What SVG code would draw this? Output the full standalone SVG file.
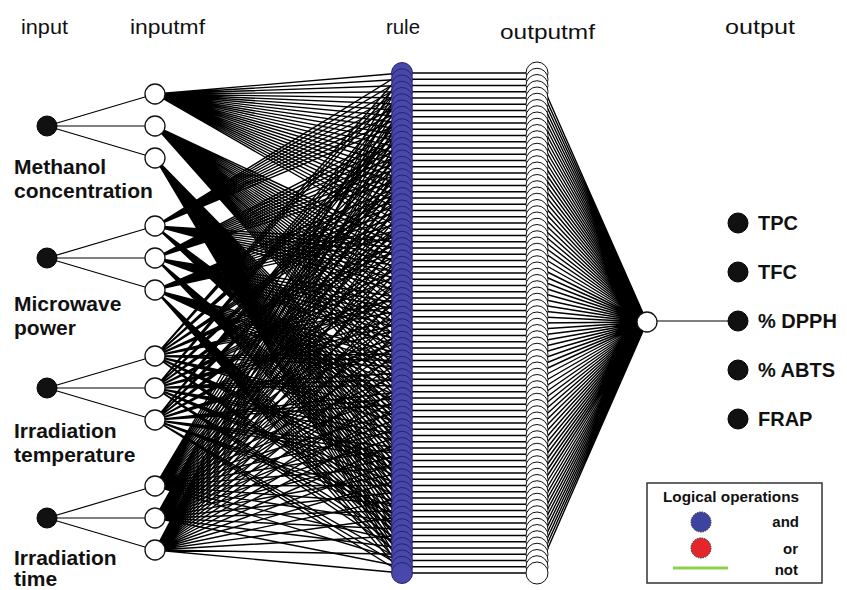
<svg xmlns="http://www.w3.org/2000/svg" width="847" height="590" viewBox="0 0 847 590">
<style>
text{font-family:"Liberation Sans",Arial,sans-serif;fill:#111}
.hd{font-size:20px}
.lb{font-size:21px;font-weight:bold}
.ol{font-size:20px;font-weight:bold}
.lg{font-size:15px;font-weight:bold}
.ln{fill:none;stroke:#000;stroke-width:1.4;stroke-linejoin:round}
.ln1{fill:none;stroke:#000;stroke-width:1.2}
.in{fill:#111;stroke:#000;stroke-width:1}
.mf{fill:#fff;stroke:#111;stroke-width:1.3}
.rn{fill:#4848aa;stroke:#25256f;stroke-width:1}
.on{fill:#fff;stroke:#111;stroke-width:1}
</style>
<rect width="847" height="590" fill="#fff"/>
<g id="headers">
<text class="hd" x="21" y="34" textLength="47" lengthAdjust="spacingAndGlyphs">input</text>
<text class="hd" x="130" y="34" textLength="75" lengthAdjust="spacingAndGlyphs">inputmf</text>
<text class="hd" x="386" y="34" textLength="34" lengthAdjust="spacingAndGlyphs">rule</text>
<text class="hd" x="500" y="39" textLength="95" lengthAdjust="spacingAndGlyphs">outputmf</text>
<text class="hd" x="725" y="34" textLength="70" lengthAdjust="spacingAndGlyphs">output</text>
</g>
<g id="connectors">
<path class="ln1" d="M47 126 155 94M47 126 155 126M47 126 155 158M47 258 155 226M47 258 155 258M47 258 155 290M47 388 155 356M47 388 155 388M47 388 155 420M47 518 155 486M47 518 155 518M47 518 155 550"/>
<path class="ln" d="M155 94 402 73 155 94 402 79.25 155 94 402 85.5 155 94 402 91.75 155 94 402 98 155 94 402 104.25 155 94 402 110.5 155 94 402 116.75 155 94 402 123 155 94 402 129.25 155 94 402 135.5 155 94 402 141.75 155 94 402 148 155 94 402 154.25 155 94 402 160.5 155 94 402 166.75 155 94 402 173 155 94 402 179.25 155 94 402 185.5 155 94 402 191.75 155 94 402 198 155 94 402 204.25 155 94 402 210.5 155 94 402 216.75 155 94 402 223 155 94 402 229.25 155 94 402 235.5"/>
<path class="ln" d="M155 126 402 241.75 155 126 402 248 155 126 402 254.25 155 126 402 260.5 155 126 402 266.75 155 126 402 273 155 126 402 279.25 155 126 402 285.5 155 126 402 291.75 155 126 402 298 155 126 402 304.25 155 126 402 310.5 155 126 402 316.75 155 126 402 323 155 126 402 329.25 155 126 402 335.5 155 126 402 341.75 155 126 402 348 155 126 402 354.25 155 126 402 360.5 155 126 402 366.75 155 126 402 373 155 126 402 379.25 155 126 402 385.5 155 126 402 391.75 155 126 402 398 155 126 402 404.25"/>
<path class="ln" d="M155 158 402 410.5 155 158 402 416.75 155 158 402 423 155 158 402 429.25 155 158 402 435.5 155 158 402 441.75 155 158 402 448 155 158 402 454.25 155 158 402 460.5 155 158 402 466.75 155 158 402 473 155 158 402 479.25 155 158 402 485.5 155 158 402 491.75 155 158 402 498 155 158 402 504.25 155 158 402 510.5 155 158 402 516.75 155 158 402 523 155 158 402 529.25 155 158 402 535.5 155 158 402 541.75 155 158 402 548 155 158 402 554.25 155 158 402 560.5 155 158 402 566.75 155 158 402 573"/>
<path class="ln" d="M155 226 402 73 155 226 402 79.25 155 226 402 85.5 155 226 402 91.75 155 226 402 98 155 226 402 104.25 155 226 402 110.5 155 226 402 116.75 155 226 402 123 155 226 402 241.75 155 226 402 248 155 226 402 254.25 155 226 402 260.5 155 226 402 266.75 155 226 402 273 155 226 402 279.25 155 226 402 285.5 155 226 402 291.75 155 226 402 410.5 155 226 402 416.75 155 226 402 423 155 226 402 429.25 155 226 402 435.5 155 226 402 441.75 155 226 402 448 155 226 402 454.25 155 226 402 460.5"/>
<path class="ln" d="M155 258 402 129.25 155 258 402 135.5 155 258 402 141.75 155 258 402 148 155 258 402 154.25 155 258 402 160.5 155 258 402 166.75 155 258 402 173 155 258 402 179.25 155 258 402 298 155 258 402 304.25 155 258 402 310.5 155 258 402 316.75 155 258 402 323 155 258 402 329.25 155 258 402 335.5 155 258 402 341.75 155 258 402 348 155 258 402 466.75 155 258 402 473 155 258 402 479.25 155 258 402 485.5 155 258 402 491.75 155 258 402 498 155 258 402 504.25 155 258 402 510.5 155 258 402 516.75"/>
<path class="ln" d="M155 290 402 185.5 155 290 402 191.75 155 290 402 198 155 290 402 204.25 155 290 402 210.5 155 290 402 216.75 155 290 402 223 155 290 402 229.25 155 290 402 235.5 155 290 402 354.25 155 290 402 360.5 155 290 402 366.75 155 290 402 373 155 290 402 379.25 155 290 402 385.5 155 290 402 391.75 155 290 402 398 155 290 402 404.25 155 290 402 523 155 290 402 529.25 155 290 402 535.5 155 290 402 541.75 155 290 402 548 155 290 402 554.25 155 290 402 560.5 155 290 402 566.75 155 290 402 573"/>
<path class="ln" d="M155 356 402 73 155 356 402 79.25 155 356 402 85.5 155 356 402 129.25 155 356 402 135.5 155 356 402 141.75 155 356 402 185.5 155 356 402 191.75 155 356 402 198 155 356 402 241.75 155 356 402 248 155 356 402 254.25 155 356 402 298 155 356 402 304.25 155 356 402 310.5 155 356 402 354.25 155 356 402 360.5 155 356 402 366.75 155 356 402 410.5 155 356 402 416.75 155 356 402 423 155 356 402 466.75 155 356 402 473 155 356 402 479.25 155 356 402 523 155 356 402 529.25 155 356 402 535.5"/>
<path class="ln" d="M155 388 402 91.75 155 388 402 98 155 388 402 104.25 155 388 402 148 155 388 402 154.25 155 388 402 160.5 155 388 402 204.25 155 388 402 210.5 155 388 402 216.75 155 388 402 260.5 155 388 402 266.75 155 388 402 273 155 388 402 316.75 155 388 402 323 155 388 402 329.25 155 388 402 373 155 388 402 379.25 155 388 402 385.5 155 388 402 429.25 155 388 402 435.5 155 388 402 441.75 155 388 402 485.5 155 388 402 491.75 155 388 402 498 155 388 402 541.75 155 388 402 548 155 388 402 554.25"/>
<path class="ln" d="M155 420 402 110.5 155 420 402 116.75 155 420 402 123 155 420 402 166.75 155 420 402 173 155 420 402 179.25 155 420 402 223 155 420 402 229.25 155 420 402 235.5 155 420 402 279.25 155 420 402 285.5 155 420 402 291.75 155 420 402 335.5 155 420 402 341.75 155 420 402 348 155 420 402 391.75 155 420 402 398 155 420 402 404.25 155 420 402 448 155 420 402 454.25 155 420 402 460.5 155 420 402 504.25 155 420 402 510.5 155 420 402 516.75 155 420 402 560.5 155 420 402 566.75 155 420 402 573"/>
<path class="ln" d="M155 486 402 73 155 486 402 91.75 155 486 402 110.5 155 486 402 129.25 155 486 402 148 155 486 402 166.75 155 486 402 185.5 155 486 402 204.25 155 486 402 223 155 486 402 241.75 155 486 402 260.5 155 486 402 279.25 155 486 402 298 155 486 402 316.75 155 486 402 335.5 155 486 402 354.25 155 486 402 373 155 486 402 391.75 155 486 402 410.5 155 486 402 429.25 155 486 402 448 155 486 402 466.75 155 486 402 485.5 155 486 402 504.25 155 486 402 523 155 486 402 541.75 155 486 402 560.5"/>
<path class="ln" d="M155 518 402 79.25 155 518 402 98 155 518 402 116.75 155 518 402 135.5 155 518 402 154.25 155 518 402 173 155 518 402 191.75 155 518 402 210.5 155 518 402 229.25 155 518 402 248 155 518 402 266.75 155 518 402 285.5 155 518 402 304.25 155 518 402 323 155 518 402 341.75 155 518 402 360.5 155 518 402 379.25 155 518 402 398 155 518 402 416.75 155 518 402 435.5 155 518 402 454.25 155 518 402 473 155 518 402 491.75 155 518 402 510.5 155 518 402 529.25 155 518 402 548 155 518 402 566.75"/>
<path class="ln" d="M155 550 402 85.5 155 550 402 104.25 155 550 402 123 155 550 402 141.75 155 550 402 160.5 155 550 402 179.25 155 550 402 198 155 550 402 216.75 155 550 402 235.5 155 550 402 254.25 155 550 402 273 155 550 402 291.75 155 550 402 310.5 155 550 402 329.25 155 550 402 348 155 550 402 366.75 155 550 402 385.5 155 550 402 404.25 155 550 402 423 155 550 402 441.75 155 550 402 460.5 155 550 402 479.25 155 550 402 498 155 550 402 516.75 155 550 402 535.5 155 550 402 554.25 155 550 402 573"/>
<path class="ln" d="M402 73H537M402 79.25H537M402 85.5H537M402 91.75H537M402 98H537M402 104.25H537M402 110.5H537M402 116.75H537M402 123H537M402 129.25H537M402 135.5H537M402 141.75H537M402 148H537M402 154.25H537M402 160.5H537M402 166.75H537M402 173H537M402 179.25H537M402 185.5H537M402 191.75H537M402 198H537M402 204.25H537M402 210.5H537M402 216.75H537M402 223H537M402 229.25H537M402 235.5H537M402 241.75H537M402 248H537M402 254.25H537M402 260.5H537M402 266.75H537M402 273H537M402 279.25H537M402 285.5H537M402 291.75H537M402 298H537M402 304.25H537M402 310.5H537M402 316.75H537M402 323H537M402 329.25H537M402 335.5H537M402 341.75H537M402 348H537M402 354.25H537M402 360.5H537M402 366.75H537M402 373H537M402 379.25H537M402 385.5H537M402 391.75H537M402 398H537M402 404.25H537M402 410.5H537M402 416.75H537M402 423H537M402 429.25H537M402 435.5H537M402 441.75H537M402 448H537M402 454.25H537M402 460.5H537M402 466.75H537M402 473H537M402 479.25H537M402 485.5H537M402 491.75H537M402 498H537M402 504.25H537M402 510.5H537M402 516.75H537M402 523H537M402 529.25H537M402 535.5H537M402 541.75H537M402 548H537M402 554.25H537M402 560.5H537M402 566.75H537M402 573H537"/>
<path class="ln" d="M647 322 537 73 647 322 537 79.25 647 322 537 85.5 647 322 537 91.75 647 322 537 98 647 322 537 104.25 647 322 537 110.5 647 322 537 116.75 647 322 537 123 647 322 537 129.25 647 322 537 135.5 647 322 537 141.75 647 322 537 148 647 322 537 154.25 647 322 537 160.5 647 322 537 166.75 647 322 537 173 647 322 537 179.25 647 322 537 185.5 647 322 537 191.75 647 322 537 198 647 322 537 204.25 647 322 537 210.5 647 322 537 216.75 647 322 537 223 647 322 537 229.25 647 322 537 235.5 647 322 537 241.75 647 322 537 248 647 322 537 254.25 647 322 537 260.5 647 322 537 266.75 647 322 537 273 647 322 537 279.25 647 322 537 285.5 647 322 537 291.75 647 322 537 298 647 322 537 304.25 647 322 537 310.5 647 322 537 316.75 647 322 537 323 647 322 537 329.25 647 322 537 335.5 647 322 537 341.75 647 322 537 348 647 322 537 354.25 647 322 537 360.5 647 322 537 366.75 647 322 537 373 647 322 537 379.25 647 322 537 385.5 647 322 537 391.75 647 322 537 398 647 322 537 404.25 647 322 537 410.5 647 322 537 416.75 647 322 537 423 647 322 537 429.25 647 322 537 435.5 647 322 537 441.75 647 322 537 448 647 322 537 454.25 647 322 537 460.5 647 322 537 466.75 647 322 537 473 647 322 537 479.25 647 322 537 485.5 647 322 537 491.75 647 322 537 498 647 322 537 504.25 647 322 537 510.5 647 322 537 516.75 647 322 537 523 647 322 537 529.25 647 322 537 535.5 647 322 537 541.75 647 322 537 548 647 322 537 554.25 647 322 537 560.5 647 322 537 566.75 647 322 537 573"/>
<path class="ln1" d="M647 321H738"/>
</g>
<g id="in1"><circle class="in" cx="47" cy="126" r="10"/><text class="lb" x="14" y="174">Methanol</text><text class="lb" x="14" y="198">concentration</text></g>
<g id="in2"><circle class="in" cx="47" cy="258" r="10"/><text class="lb" x="14" y="311">Microwave</text><text class="lb" x="14" y="335">power</text></g>
<g id="in3"><circle class="in" cx="47" cy="388" r="10"/><text class="lb" x="14" y="438">Irradiation</text><text class="lb" x="14" y="462">temperature</text></g>
<g id="in4"><circle class="in" cx="47" cy="518" r="10"/><text class="lb" x="14" y="565">Irradiation</text><text class="lb" x="14" y="586">time</text></g>
<g id="mf1"><circle class="mf" cx="155" cy="94" r="10"/></g>
<g id="mf2"><circle class="mf" cx="155" cy="126" r="10"/></g>
<g id="mf3"><circle class="mf" cx="155" cy="158" r="10"/></g>
<g id="mf4"><circle class="mf" cx="155" cy="226" r="10"/></g>
<g id="mf5"><circle class="mf" cx="155" cy="258" r="10"/></g>
<g id="mf6"><circle class="mf" cx="155" cy="290" r="10"/></g>
<g id="mf7"><circle class="mf" cx="155" cy="356" r="10"/></g>
<g id="mf8"><circle class="mf" cx="155" cy="388" r="10"/></g>
<g id="mf9"><circle class="mf" cx="155" cy="420" r="10"/></g>
<g id="mf10"><circle class="mf" cx="155" cy="486" r="10"/></g>
<g id="mf11"><circle class="mf" cx="155" cy="518" r="10"/></g>
<g id="mf12"><circle class="mf" cx="155" cy="550" r="10"/></g>
<g id="rules">
<g id="r1"><circle class="rn" cx="402" cy="73" r="10.5"/></g>
<g id="r2"><circle class="rn" cx="402" cy="79.25" r="10.5"/></g>
<g id="r3"><circle class="rn" cx="402" cy="85.5" r="10.5"/></g>
<g id="r4"><circle class="rn" cx="402" cy="91.75" r="10.5"/></g>
<g id="r5"><circle class="rn" cx="402" cy="98" r="10.5"/></g>
<g id="r6"><circle class="rn" cx="402" cy="104.25" r="10.5"/></g>
<g id="r7"><circle class="rn" cx="402" cy="110.5" r="10.5"/></g>
<g id="r8"><circle class="rn" cx="402" cy="116.75" r="10.5"/></g>
<g id="r9"><circle class="rn" cx="402" cy="123" r="10.5"/></g>
<g id="r10"><circle class="rn" cx="402" cy="129.25" r="10.5"/></g>
<g id="r11"><circle class="rn" cx="402" cy="135.5" r="10.5"/></g>
<g id="r12"><circle class="rn" cx="402" cy="141.75" r="10.5"/></g>
<g id="r13"><circle class="rn" cx="402" cy="148" r="10.5"/></g>
<g id="r14"><circle class="rn" cx="402" cy="154.25" r="10.5"/></g>
<g id="r15"><circle class="rn" cx="402" cy="160.5" r="10.5"/></g>
<g id="r16"><circle class="rn" cx="402" cy="166.75" r="10.5"/></g>
<g id="r17"><circle class="rn" cx="402" cy="173" r="10.5"/></g>
<g id="r18"><circle class="rn" cx="402" cy="179.25" r="10.5"/></g>
<g id="r19"><circle class="rn" cx="402" cy="185.5" r="10.5"/></g>
<g id="r20"><circle class="rn" cx="402" cy="191.75" r="10.5"/></g>
<g id="r21"><circle class="rn" cx="402" cy="198" r="10.5"/></g>
<g id="r22"><circle class="rn" cx="402" cy="204.25" r="10.5"/></g>
<g id="r23"><circle class="rn" cx="402" cy="210.5" r="10.5"/></g>
<g id="r24"><circle class="rn" cx="402" cy="216.75" r="10.5"/></g>
<g id="r25"><circle class="rn" cx="402" cy="223" r="10.5"/></g>
<g id="r26"><circle class="rn" cx="402" cy="229.25" r="10.5"/></g>
<g id="r27"><circle class="rn" cx="402" cy="235.5" r="10.5"/></g>
<g id="r28"><circle class="rn" cx="402" cy="241.75" r="10.5"/></g>
<g id="r29"><circle class="rn" cx="402" cy="248" r="10.5"/></g>
<g id="r30"><circle class="rn" cx="402" cy="254.25" r="10.5"/></g>
<g id="r31"><circle class="rn" cx="402" cy="260.5" r="10.5"/></g>
<g id="r32"><circle class="rn" cx="402" cy="266.75" r="10.5"/></g>
<g id="r33"><circle class="rn" cx="402" cy="273" r="10.5"/></g>
<g id="r34"><circle class="rn" cx="402" cy="279.25" r="10.5"/></g>
<g id="r35"><circle class="rn" cx="402" cy="285.5" r="10.5"/></g>
<g id="r36"><circle class="rn" cx="402" cy="291.75" r="10.5"/></g>
<g id="r37"><circle class="rn" cx="402" cy="298" r="10.5"/></g>
<g id="r38"><circle class="rn" cx="402" cy="304.25" r="10.5"/></g>
<g id="r39"><circle class="rn" cx="402" cy="310.5" r="10.5"/></g>
<g id="r40"><circle class="rn" cx="402" cy="316.75" r="10.5"/></g>
<g id="r41"><circle class="rn" cx="402" cy="323" r="10.5"/></g>
<g id="r42"><circle class="rn" cx="402" cy="329.25" r="10.5"/></g>
<g id="r43"><circle class="rn" cx="402" cy="335.5" r="10.5"/></g>
<g id="r44"><circle class="rn" cx="402" cy="341.75" r="10.5"/></g>
<g id="r45"><circle class="rn" cx="402" cy="348" r="10.5"/></g>
<g id="r46"><circle class="rn" cx="402" cy="354.25" r="10.5"/></g>
<g id="r47"><circle class="rn" cx="402" cy="360.5" r="10.5"/></g>
<g id="r48"><circle class="rn" cx="402" cy="366.75" r="10.5"/></g>
<g id="r49"><circle class="rn" cx="402" cy="373" r="10.5"/></g>
<g id="r50"><circle class="rn" cx="402" cy="379.25" r="10.5"/></g>
<g id="r51"><circle class="rn" cx="402" cy="385.5" r="10.5"/></g>
<g id="r52"><circle class="rn" cx="402" cy="391.75" r="10.5"/></g>
<g id="r53"><circle class="rn" cx="402" cy="398" r="10.5"/></g>
<g id="r54"><circle class="rn" cx="402" cy="404.25" r="10.5"/></g>
<g id="r55"><circle class="rn" cx="402" cy="410.5" r="10.5"/></g>
<g id="r56"><circle class="rn" cx="402" cy="416.75" r="10.5"/></g>
<g id="r57"><circle class="rn" cx="402" cy="423" r="10.5"/></g>
<g id="r58"><circle class="rn" cx="402" cy="429.25" r="10.5"/></g>
<g id="r59"><circle class="rn" cx="402" cy="435.5" r="10.5"/></g>
<g id="r60"><circle class="rn" cx="402" cy="441.75" r="10.5"/></g>
<g id="r61"><circle class="rn" cx="402" cy="448" r="10.5"/></g>
<g id="r62"><circle class="rn" cx="402" cy="454.25" r="10.5"/></g>
<g id="r63"><circle class="rn" cx="402" cy="460.5" r="10.5"/></g>
<g id="r64"><circle class="rn" cx="402" cy="466.75" r="10.5"/></g>
<g id="r65"><circle class="rn" cx="402" cy="473" r="10.5"/></g>
<g id="r66"><circle class="rn" cx="402" cy="479.25" r="10.5"/></g>
<g id="r67"><circle class="rn" cx="402" cy="485.5" r="10.5"/></g>
<g id="r68"><circle class="rn" cx="402" cy="491.75" r="10.5"/></g>
<g id="r69"><circle class="rn" cx="402" cy="498" r="10.5"/></g>
<g id="r70"><circle class="rn" cx="402" cy="504.25" r="10.5"/></g>
<g id="r71"><circle class="rn" cx="402" cy="510.5" r="10.5"/></g>
<g id="r72"><circle class="rn" cx="402" cy="516.75" r="10.5"/></g>
<g id="r73"><circle class="rn" cx="402" cy="523" r="10.5"/></g>
<g id="r74"><circle class="rn" cx="402" cy="529.25" r="10.5"/></g>
<g id="r75"><circle class="rn" cx="402" cy="535.5" r="10.5"/></g>
<g id="r76"><circle class="rn" cx="402" cy="541.75" r="10.5"/></g>
<g id="r77"><circle class="rn" cx="402" cy="548" r="10.5"/></g>
<g id="r78"><circle class="rn" cx="402" cy="554.25" r="10.5"/></g>
<g id="r79"><circle class="rn" cx="402" cy="560.5" r="10.5"/></g>
<g id="r80"><circle class="rn" cx="402" cy="566.75" r="10.5"/></g>
<g id="r81"><circle class="rn" cx="402" cy="573" r="10.5"/></g>
</g>
<g id="outputmfs">
<g id="o1"><circle class="on" cx="537" cy="73" r="11"/></g>
<g id="o2"><circle class="on" cx="537" cy="79.25" r="11"/></g>
<g id="o3"><circle class="on" cx="537" cy="85.5" r="11"/></g>
<g id="o4"><circle class="on" cx="537" cy="91.75" r="11"/></g>
<g id="o5"><circle class="on" cx="537" cy="98" r="11"/></g>
<g id="o6"><circle class="on" cx="537" cy="104.25" r="11"/></g>
<g id="o7"><circle class="on" cx="537" cy="110.5" r="11"/></g>
<g id="o8"><circle class="on" cx="537" cy="116.75" r="11"/></g>
<g id="o9"><circle class="on" cx="537" cy="123" r="11"/></g>
<g id="o10"><circle class="on" cx="537" cy="129.25" r="11"/></g>
<g id="o11"><circle class="on" cx="537" cy="135.5" r="11"/></g>
<g id="o12"><circle class="on" cx="537" cy="141.75" r="11"/></g>
<g id="o13"><circle class="on" cx="537" cy="148" r="11"/></g>
<g id="o14"><circle class="on" cx="537" cy="154.25" r="11"/></g>
<g id="o15"><circle class="on" cx="537" cy="160.5" r="11"/></g>
<g id="o16"><circle class="on" cx="537" cy="166.75" r="11"/></g>
<g id="o17"><circle class="on" cx="537" cy="173" r="11"/></g>
<g id="o18"><circle class="on" cx="537" cy="179.25" r="11"/></g>
<g id="o19"><circle class="on" cx="537" cy="185.5" r="11"/></g>
<g id="o20"><circle class="on" cx="537" cy="191.75" r="11"/></g>
<g id="o21"><circle class="on" cx="537" cy="198" r="11"/></g>
<g id="o22"><circle class="on" cx="537" cy="204.25" r="11"/></g>
<g id="o23"><circle class="on" cx="537" cy="210.5" r="11"/></g>
<g id="o24"><circle class="on" cx="537" cy="216.75" r="11"/></g>
<g id="o25"><circle class="on" cx="537" cy="223" r="11"/></g>
<g id="o26"><circle class="on" cx="537" cy="229.25" r="11"/></g>
<g id="o27"><circle class="on" cx="537" cy="235.5" r="11"/></g>
<g id="o28"><circle class="on" cx="537" cy="241.75" r="11"/></g>
<g id="o29"><circle class="on" cx="537" cy="248" r="11"/></g>
<g id="o30"><circle class="on" cx="537" cy="254.25" r="11"/></g>
<g id="o31"><circle class="on" cx="537" cy="260.5" r="11"/></g>
<g id="o32"><circle class="on" cx="537" cy="266.75" r="11"/></g>
<g id="o33"><circle class="on" cx="537" cy="273" r="11"/></g>
<g id="o34"><circle class="on" cx="537" cy="279.25" r="11"/></g>
<g id="o35"><circle class="on" cx="537" cy="285.5" r="11"/></g>
<g id="o36"><circle class="on" cx="537" cy="291.75" r="11"/></g>
<g id="o37"><circle class="on" cx="537" cy="298" r="11"/></g>
<g id="o38"><circle class="on" cx="537" cy="304.25" r="11"/></g>
<g id="o39"><circle class="on" cx="537" cy="310.5" r="11"/></g>
<g id="o40"><circle class="on" cx="537" cy="316.75" r="11"/></g>
<g id="o41"><circle class="on" cx="537" cy="323" r="11"/></g>
<g id="o42"><circle class="on" cx="537" cy="329.25" r="11"/></g>
<g id="o43"><circle class="on" cx="537" cy="335.5" r="11"/></g>
<g id="o44"><circle class="on" cx="537" cy="341.75" r="11"/></g>
<g id="o45"><circle class="on" cx="537" cy="348" r="11"/></g>
<g id="o46"><circle class="on" cx="537" cy="354.25" r="11"/></g>
<g id="o47"><circle class="on" cx="537" cy="360.5" r="11"/></g>
<g id="o48"><circle class="on" cx="537" cy="366.75" r="11"/></g>
<g id="o49"><circle class="on" cx="537" cy="373" r="11"/></g>
<g id="o50"><circle class="on" cx="537" cy="379.25" r="11"/></g>
<g id="o51"><circle class="on" cx="537" cy="385.5" r="11"/></g>
<g id="o52"><circle class="on" cx="537" cy="391.75" r="11"/></g>
<g id="o53"><circle class="on" cx="537" cy="398" r="11"/></g>
<g id="o54"><circle class="on" cx="537" cy="404.25" r="11"/></g>
<g id="o55"><circle class="on" cx="537" cy="410.5" r="11"/></g>
<g id="o56"><circle class="on" cx="537" cy="416.75" r="11"/></g>
<g id="o57"><circle class="on" cx="537" cy="423" r="11"/></g>
<g id="o58"><circle class="on" cx="537" cy="429.25" r="11"/></g>
<g id="o59"><circle class="on" cx="537" cy="435.5" r="11"/></g>
<g id="o60"><circle class="on" cx="537" cy="441.75" r="11"/></g>
<g id="o61"><circle class="on" cx="537" cy="448" r="11"/></g>
<g id="o62"><circle class="on" cx="537" cy="454.25" r="11"/></g>
<g id="o63"><circle class="on" cx="537" cy="460.5" r="11"/></g>
<g id="o64"><circle class="on" cx="537" cy="466.75" r="11"/></g>
<g id="o65"><circle class="on" cx="537" cy="473" r="11"/></g>
<g id="o66"><circle class="on" cx="537" cy="479.25" r="11"/></g>
<g id="o67"><circle class="on" cx="537" cy="485.5" r="11"/></g>
<g id="o68"><circle class="on" cx="537" cy="491.75" r="11"/></g>
<g id="o69"><circle class="on" cx="537" cy="498" r="11"/></g>
<g id="o70"><circle class="on" cx="537" cy="504.25" r="11"/></g>
<g id="o71"><circle class="on" cx="537" cy="510.5" r="11"/></g>
<g id="o72"><circle class="on" cx="537" cy="516.75" r="11"/></g>
<g id="o73"><circle class="on" cx="537" cy="523" r="11"/></g>
<g id="o74"><circle class="on" cx="537" cy="529.25" r="11"/></g>
<g id="o75"><circle class="on" cx="537" cy="535.5" r="11"/></g>
<g id="o76"><circle class="on" cx="537" cy="541.75" r="11"/></g>
<g id="o77"><circle class="on" cx="537" cy="548" r="11"/></g>
<g id="o78"><circle class="on" cx="537" cy="554.25" r="11"/></g>
<g id="o79"><circle class="on" cx="537" cy="560.5" r="11"/></g>
<g id="o80"><circle class="on" cx="537" cy="566.75" r="11"/></g>
<g id="o81"><circle class="on" cx="537" cy="573" r="11"/></g>
</g>
<g id="out"><circle class="mf" cx="647" cy="322" r="10"/></g>
<g id="tpc"><circle class="in" cx="738" cy="223" r="10"/><text class="ol" x="758" y="230">TPC</text></g>
<g id="tfc"><circle class="in" cx="738" cy="272" r="10"/><text class="ol" x="758" y="279">TFC</text></g>
<g id="dpph"><circle class="in" cx="738" cy="321" r="10"/><text class="ol" x="758" y="328">% DPPH</text></g>
<g id="abts"><circle class="in" cx="738" cy="370" r="10"/><text class="ol" x="758" y="377">% ABTS</text></g>
<g id="frap"><circle class="in" cx="738" cy="419" r="10"/><text class="ol" x="758" y="426">FRAP</text></g>
<g id="legend">
<rect x="647" y="483" width="175" height="100" fill="#fff" stroke="#333" stroke-width="1.5"/>
<text class="lg" x="663" y="502" textLength="136" lengthAdjust="spacingAndGlyphs">Logical operations</text>
<circle cx="701" cy="522" r="10" fill="#3f43a0" stroke="#222" stroke-width="1" stroke-dasharray="1.5 1"/>
<text class="lg" x="799" y="527" text-anchor="end">and</text>
<circle cx="701" cy="548" r="10" fill="#e4252b" stroke="#222" stroke-width="1" stroke-dasharray="1.5 1"/>
<text class="lg" x="798" y="554" text-anchor="end">or</text>
<line x1="673" y1="568" x2="728" y2="568" stroke="#8cd14a" stroke-width="3"/>
<text class="lg" x="798" y="575" text-anchor="end">not</text>
</g>
</svg>
